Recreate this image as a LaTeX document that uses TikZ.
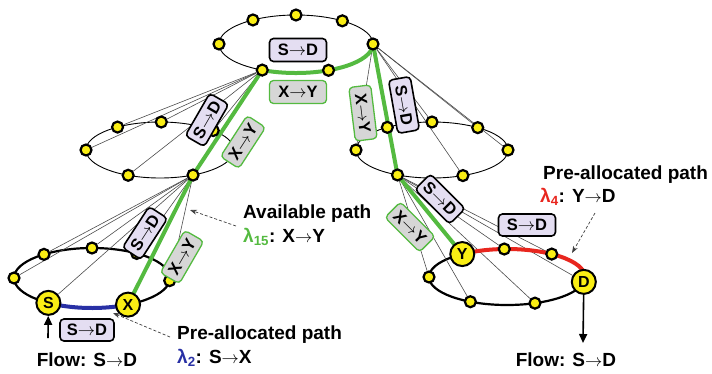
\documentclass[tikz,border=0pt]{standalone}
\usepackage{fontspec}
\setmainfont{Liberation Sans}
\usetikzlibrary{calc,arrows.meta,backgrounds}

\definecolor{pathgreen}{RGB}{84,186,64}
\definecolor{pathblue}{RGB}{40,48,165}
\definecolor{pathred}{RGB}{232,38,30}
\definecolor{boxlilac}{RGB}{228,222,242}
\definecolor{boxgray}{RGB}{214,214,214}
\definecolor{dotyellow}{RGB}{250,238,20}

\newcommand{\flowto}{\ensuremath{\rightarrow}}

\tikzset{
  ring/.style={draw=black, line width=0.9pt},
  mainring/.style={draw=black, line width=2.2pt},
  spoke/.style={draw=black!70, line width=0.6pt},
  dot/.style={circle, draw=black, line width=2.2pt, fill=dotyellow, inner sep=0pt, minimum size=11pt},
  endpt/.style={circle, draw=black, line width=2pt, fill=dotyellow, inner sep=0pt, minimum size=24pt, font=\bfseries\fontsize{16}{16}\selectfont},
  sdbox/.style={draw=black, line width=1.6pt, fill=boxlilac, rounded corners=4pt, minimum width=49pt, minimum height=22pt, inner sep=1pt, font=\bfseries\fontsize{16.5}{16.5}\selectfont},
  xybox/.style={sdbox, draw=pathgreen, line width=1.3pt, fill=boxgray},
  note/.style={anchor=west, inner sep=0pt, font=\bfseries\fontsize{19}{21}\selectfont},
  lightpath/.style={line width=4pt, line cap=round},
  pointer/.style={draw=black!75, densely dashed, line width=0.7pt, -{Stealth[length=7pt,width=5pt]}},
  flow/.style={line width=1.6pt, -{Triangle[length=9pt,width=8pt]}}
}

\begin{document}
\begin{tikzpicture}[x=1pt,y=-1pt]
\useasboundingbox (0,0) rectangle (712,373);

% ring centres
\coordinate (T) at (296,44);
\coordinate (UL) at (160,150);
\coordinate (LL) at (92,278);
\coordinate (UR) at (432,150);
\coordinate (LR) at (507,277);

% ring nodes
\foreach \a/\n in {180/t1, 236/t2, 270/t3, 307/t4, 0/t5, 65/t6, 116/t7}
  \node[dot] (\n) at ($(T)+(\a:77 and 29)$) {};
\foreach \a/\n in {180/a1, 235/a2, 271/a3, 316/a4, 63.5/a5, 115.5/a6}
  \node[dot] (\n) at ($(UL)+(\a:74 and 28)$) {};
\foreach \a/\n in {180/b1, 232/b2, 270/b3, 305/b4, 5/b5}
  \node[dot] (\n) at ($(LL)+(\a:78 and 30)$) {};
\foreach \a/\n in {180/c1, 234/c2, 270/c3, 307/c4, 0/c5, 117/c6, 66/c7}
  \node[dot] (\n) at ($(UR)+(\a:76 and 28)$) {};
\foreach \a/\n in {180/d1, 268/d2, 305/d3, 69/d4, 118/d5}
  \node[dot] (\n) at ($(LR)+(\a:78 and 28)$) {};

% source, destination, border nodes
\node[endpt] (S) at ($(LL)+(124:78 and 30)$) {S};
\node[endpt] (X) at ($(LL)+(62.5:78 and 30)$) {X};
\node[endpt] (Y) at ($(LR)+(235:78 and 28)$) {Y};
\node[endpt] (D) at ($(LR)+(10:78 and 28)$) {D};

% request labels
\node[sdbox, minimum width=57pt, minimum height=23pt] (sdtop) at (298,50) {S\flowto D};
\node[xybox, minimum width=57pt, minimum height=23pt] (xytop) at (298,92) {X\flowto Y};
\node[sdbox, rotate=60] (sdul) at (207,120) {S\flowto D};
\node[xybox, rotate=57] (xyul) at (243,142) {X\flowto Y};
\node[sdbox, rotate=57] (sdll) at (145,233) {S\flowto D};
\node[xybox, rotate=60] (xyll) at (182,257) {X\flowto Y};
\node[xybox, rotate=-83, minimum width=54pt] (xyur) at (363,113) {X\flowto Y};
\node[sdbox, rotate=-80, minimum width=54pt] (sdur) at (404,105) {S\flowto D};
\node[sdbox, rotate=-45] (sdlr) at (440,199) {S\flowto D};
\node[xybox, rotate=-45] (xylr) at (410,227) {X\flowto Y};
\node[sdbox, minimum width=57pt] (sdmid) at (527,225) {S\flowto D};
\node[sdbox, minimum width=54pt] (sdsrc) at (87,330) {S\flowto D};

\begin{scope}[on background layer]
  \draw[ring] (T) ellipse [x radius=77, y radius=29];
  \draw[ring] (UL) ellipse [x radius=74, y radius=28];
  \draw[ring] (UR) ellipse [x radius=76, y radius=28];
  \draw[mainring] (LL) ellipse [x radius=78, y radius=30];
  \draw[mainring] (LR) ellipse [x radius=78, y radius=28];
  % links between the rings
  \foreach \n in {a1,a2,a3,a4,a6}
    \draw[spoke] (t7) -- (\n);
  \foreach \n in {c1,c2,c3,c4,c5,c7}
    \draw[spoke] (t5) -- (\n);
  \foreach \n in {b1,b2,b3,b4,b5,S}
    \draw[spoke] (a5) -- (\n);
  \foreach \n in {d1,d2,d3,d4,d5,D}
    \draw[spoke] (c6) -- (\n);
  % lightpaths
  \draw[lightpath, pathgreen] (t7.center) arc[start angle=116, end angle=0, x radius=77, y radius=29];
  \draw[lightpath, pathgreen] (t7.center) -- (a5.center) -- (X.center);
  \draw[lightpath, pathgreen] (t5.center) -- (c6.center) -- (Y.center);
  \draw[lightpath, pathred] (Y.center) arc[start angle=235, end angle=370, x radius=78, y radius=28];
  \draw[lightpath, pathblue] (S.center) arc[start angle=124, end angle=62.5, x radius=78, y radius=30];
\end{scope}

% annotations
\node[note] (availtxt) at (243,214) {Available path};
\node[note] (availlam) at (243,237) {{\color{pathgreen}λ\textsubscript{15}}: X\flowto Y};
\node[note] (leftpre) at (177,335) {Pre-allocated path};
\node[note] (leftlam) at (177,358) {{\color{pathblue}λ\textsubscript{2}}: S\flowto X};
\node[note] (rightpre) at (543,175) {Pre-allocated path};
\node[note] (rightlam) at (540,197) {{\color{pathred}λ\textsubscript{4}}: Y\flowto D};
\node[note, anchor=center] (flowleft) at (87,360) {Flow: S\flowto D};
\node[note, anchor=center] (flowright) at (566,360) {Flow: S\flowto D};

\coordinate (availtail) at (236,226);
\coordinate (availhead) at (190,210);
\coordinate (lefttail) at (170,337);
\coordinate (lefthead) at (113,313);
\coordinate (righttail) at (595,213);
\coordinate (righthead) at (572,253);
\draw[pointer] (availtail) -- (availhead);
\draw[pointer] (lefttail) -- (lefthead);
\draw[pointer] (righttail) -- (righthead);

\coordinate (srcin) at (48,338);
\coordinate (dstout) at (583,343);
\draw[flow] (srcin) -- (S);
\draw[flow] (D) -- (dstout);
\end{tikzpicture}
\end{document}
